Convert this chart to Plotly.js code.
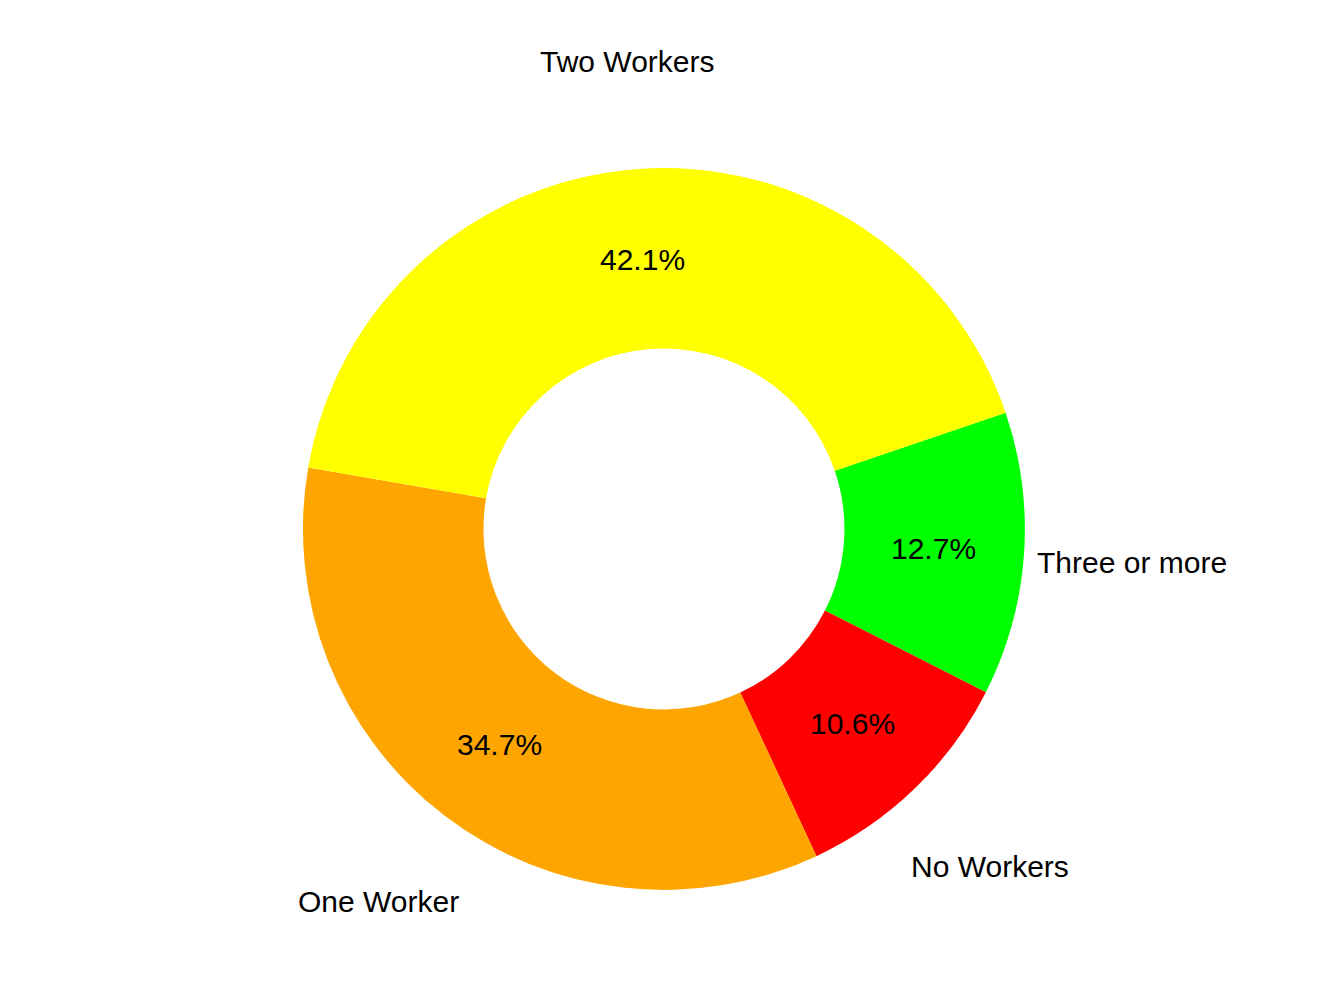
<!DOCTYPE html>
<html>
<head>
<meta charset="utf-8">
<script src="https://cdn.plot.ly/plotly-3.0.1.min.js"></script>
<style>
  html, body { margin: 0; padding: 0; background: #fff; }
  #chart { width: 1344px; height: 1008px; }
</style>
</head>
<body>
<div id="chart"></div>
<script>
  // slice order follows the reference, clockwise from the green slice
  var categories = ["Three or more", "No Workers", "One Worker", "Two Workers"];
  var shares = [12.7, 10.6, 34.7, 42.1];
  var colors = ["#00ff00", "#ff0000", "#ffa500", "#ffff00"];

  var W = 1344, H = 1008;
  var domX = [0.2254, 0.7626];
  var domY = [0.1171, 0.8333];
  var rotation = 71.2;
  var hole = 0.5;

  // label placement, relative to the outer radius
  var pctRadius = 0.75;
  var nameRadius = 1.3;

  var cx = (domX[0] + domX[1]) / 2;
  var cy = (domY[0] + domY[1]) / 2;
  var R = (domY[1] - domY[0]) * H / 2;
  var labelFont = { family: "Liberation Sans, Arial", size: 30, color: "#000" };

  var total = shares.reduce(function (a, b) { return a + b; }, 0);
  var annotations = [];
  var acc = 0;
  shares.forEach(function (v, i) {
    var mid = (rotation + (acc + v / 2) / total * 360) * Math.PI / 180;
    acc += v;
    var sx = Math.sin(mid), sy = Math.cos(mid);
    annotations.push({
      x: cx + pctRadius * R * sx / W, y: cy + pctRadius * R * sy / H,
      xref: "paper", yref: "paper", xanchor: "center", yanchor: "middle",
      showarrow: false, text: v.toFixed(1) + "%", font: labelFont
    });
    annotations.push({
      x: cx + nameRadius * R * sx / W, y: cy + nameRadius * R * sy / H,
      xref: "paper", yref: "paper", xanchor: "center", yanchor: "middle",
      showarrow: false, text: categories[i], font: labelFont
    });
  });

  var data = [{
    type: "pie",
    labels: categories,
    values: shares,
    sort: false,
    direction: "clockwise",
    rotation: rotation,
    hole: hole,
    marker: { colors: colors, line: { width: 0 } },
    textinfo: "none",
    hoverinfo: "label+percent",
    domain: { x: domX, y: domY }
  }];

  var layout = {
    width: W,
    height: H,
    showlegend: false,
    margin: { t: 0, b: 0, l: 0, r: 0 },
    paper_bgcolor: "#fff",
    plot_bgcolor: "#fff",
    annotations: annotations
  };

  Plotly.newPlot("chart", data, layout, { displayModeBar: false, staticPlot: true });
</script>
</body>
</html>
